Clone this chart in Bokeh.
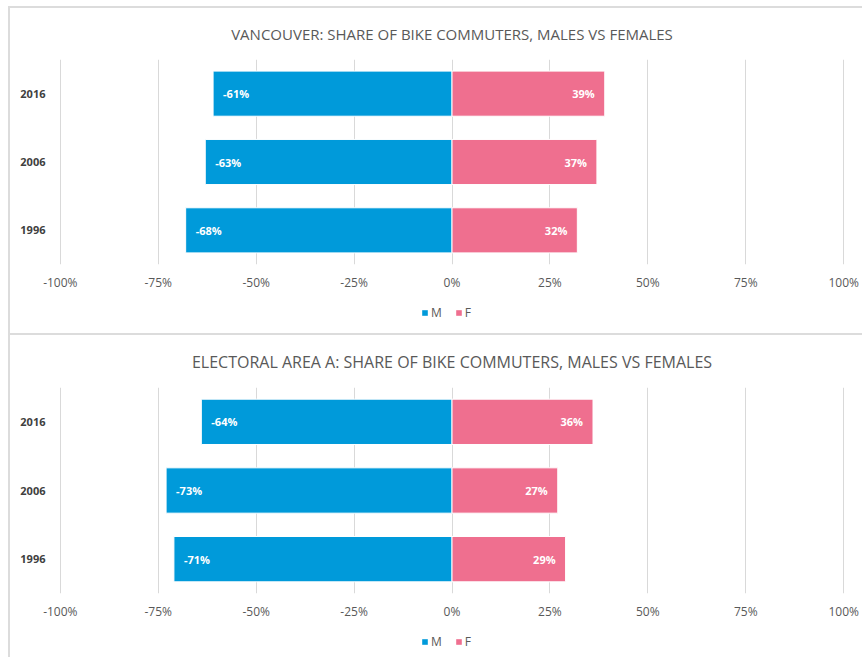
from bokeh.plotting import figure
from bokeh.models import (ColumnDataSource, FactorRange, Range1d, FixedTicker,
                          NumeralTickFormatter, Legend, LegendItem)
from bokeh.layouts import column
from bokeh.core.properties import value
from bokeh.embed import file_html
from bokeh.resources import INLINE

# ---- data ----
years = ["2016", "2006", "1996"]
van_m = [-61, -63, -68]
van_f = [39, 37, 32]
ea_m = [-64, -73, -71]
ea_f = [36, 27, 29]
tick_vals = [-1.0, -0.75, -0.5, -0.25, 0.0, 0.25, 0.5, 0.75, 1.0]
series_names = ["M", "F"]
titles = ["VANCOUVER: SHARE OF BIKE COMMUTERS, MALES VS FEMALES",
          "ELECTORAL AREA A: SHARE OF BIKE COMMUTERS, MALES VS FEMALES"]

BLUE = "#009ADA"
PINK = "#EF6F8F"
GRID = "#D9D9D9"
TXT = "#595959"
FONT = "Open Sans"
W = 854


def make_source(m_vals, f_vals):
    return ColumnDataSource(dict(
        year=years,
        m=[v / 100 for v in m_vals],
        f=[v / 100 for v in f_vals],
        mlab=[f"{v}%" for v in m_vals],
        flab=[f"{v}%" for v in f_vals],
    ))


def make_main(title, src, height, top, bottom, title_size, title_standoff):
    p = figure(width=W, height=height, output_backend="svg", toolbar_location=None,
               y_range=FactorRange(factors=years[::-1], range_padding=0),
               x_range=Range1d(-1.02, 1.02),
               min_border_left=44, min_border_right=11,
               min_border_top=top, min_border_bottom=bottom,
               title=title)
    p.border_fill_color = None
    p.background_fill_color = "white"
    p.outline_line_color = None

    p.title.align = "center"
    p.title.text_font = FONT
    p.title.text_font_size = title_size
    p.title.text_font_style = "normal"
    p.title.text_color = TXT
    p.title.standoff = title_standoff

    p.hbar(y="year", left=0, right="m", height=0.66, source=src,
           fill_color=BLUE, line_color="white", line_width=1)
    p.hbar(y="year", left=0, right="f", height=0.66, source=src,
           fill_color=PINK, line_color="white", line_width=1)

    p.text(x="m", y="year", text="mlab", source=src, x_offset=10,
           text_align="left", text_baseline="middle", text_color="white",
           text_font=value(FONT), text_font_size="11px", text_font_style="bold")
    p.text(x="f", y="year", text="flab", source=src, x_offset=-10,
           text_align="right", text_baseline="middle", text_color="white",
           text_font=value(FONT), text_font_size="11px", text_font_style="bold")

    p.xaxis.ticker = FixedTicker(ticks=tick_vals)
    p.xaxis.formatter = NumeralTickFormatter(format="0%")
    p.xaxis.axis_line_color = None
    p.xaxis.major_tick_line_color = None
    p.xaxis.minor_tick_line_color = None
    p.xaxis.major_tick_out = 0
    p.xaxis.major_tick_in = 0
    p.xaxis.major_label_standoff = 9
    p.xaxis.major_label_text_font = FONT
    p.xaxis.major_label_text_font_size = "12px"
    p.xaxis.major_label_text_color = TXT

    p.yaxis.axis_line_color = None
    p.yaxis.major_tick_line_color = None
    p.yaxis.minor_tick_line_color = None
    p.yaxis.major_tick_out = 0
    p.yaxis.major_tick_in = 0
    p.yaxis.major_label_standoff = 7
    p.yaxis.major_label_text_font = FONT
    p.yaxis.major_label_text_font_size = "11px"
    p.yaxis.major_label_text_font_style = "bold"
    p.yaxis.major_label_text_color = "#404040"

    p.xgrid.grid_line_color = GRID
    p.xgrid.grid_line_width = 1
    p.ygrid.grid_line_color = None
    return p


def make_legend(src, height, vy):
    # strip under each chart that carries its legend (series renderers hidden here)
    lf = figure(width=W, height=height, output_backend="svg", toolbar_location=None,
                x_axis_type=None, y_axis_type=None,
                min_border_left=44, min_border_right=11,
                min_border_top=0, min_border_bottom=0,
                x_range=Range1d(-1.02, 1.02),
                y_range=FactorRange(factors=years[::-1], range_padding=0))
    lf.border_fill_color = None
    lf.background_fill_color = None
    lf.outline_line_color = None
    rm = lf.hbar(y="year", left=0, right="m", height=0.66, source=src,
                 fill_color=BLUE, line_color=None, visible=False)
    rf = lf.hbar(y="year", left=0, right="f", height=0.66, source=src,
                 fill_color=PINK, line_color=None, visible=False)
    legend = Legend(items=[LegendItem(label=series_names[0], renderers=[rm]),
                           LegendItem(label=series_names[1], renderers=[rf])],
                    orientation="horizontal", location=(369, vy),
                    glyph_width=7, glyph_height=7, label_standoff=3, spacing=13,
                    label_text_font=FONT, label_text_font_size="12px",
                    label_text_color=TXT, label_height=12, label_width=8,
                    padding=0, margin=0, border_line_color=None,
                    background_fill_alpha=0, inactive_fill_alpha=0)
    lf.add_layout(legend, "center")
    return lf


BORDER = {"box-shadow": "inset 2px 2px 0 0 #DCDCDC"}

s1 = make_source(van_m, van_f)
s2 = make_source(ea_m, ea_f)
p1 = make_main(titles[0], s1, 290, 53, 32, "15px", 31)
l1 = make_legend(s1, 37, 12)
p2 = make_main(titles[1], s2, 290, 54, 30, "16px", 30)
l2 = make_legend(s2, 34, 7)

panel1 = column(p1, l1, spacing=0, margin=(6, 0, 0, 8), styles=BORDER)
panel2 = column(p2, l2, spacing=0, margin=(0, 0, 0, 8), styles=BORDER)
layout = column(panel1, panel2, spacing=0)

open("out.html", "w").write(file_html(layout, INLINE))
